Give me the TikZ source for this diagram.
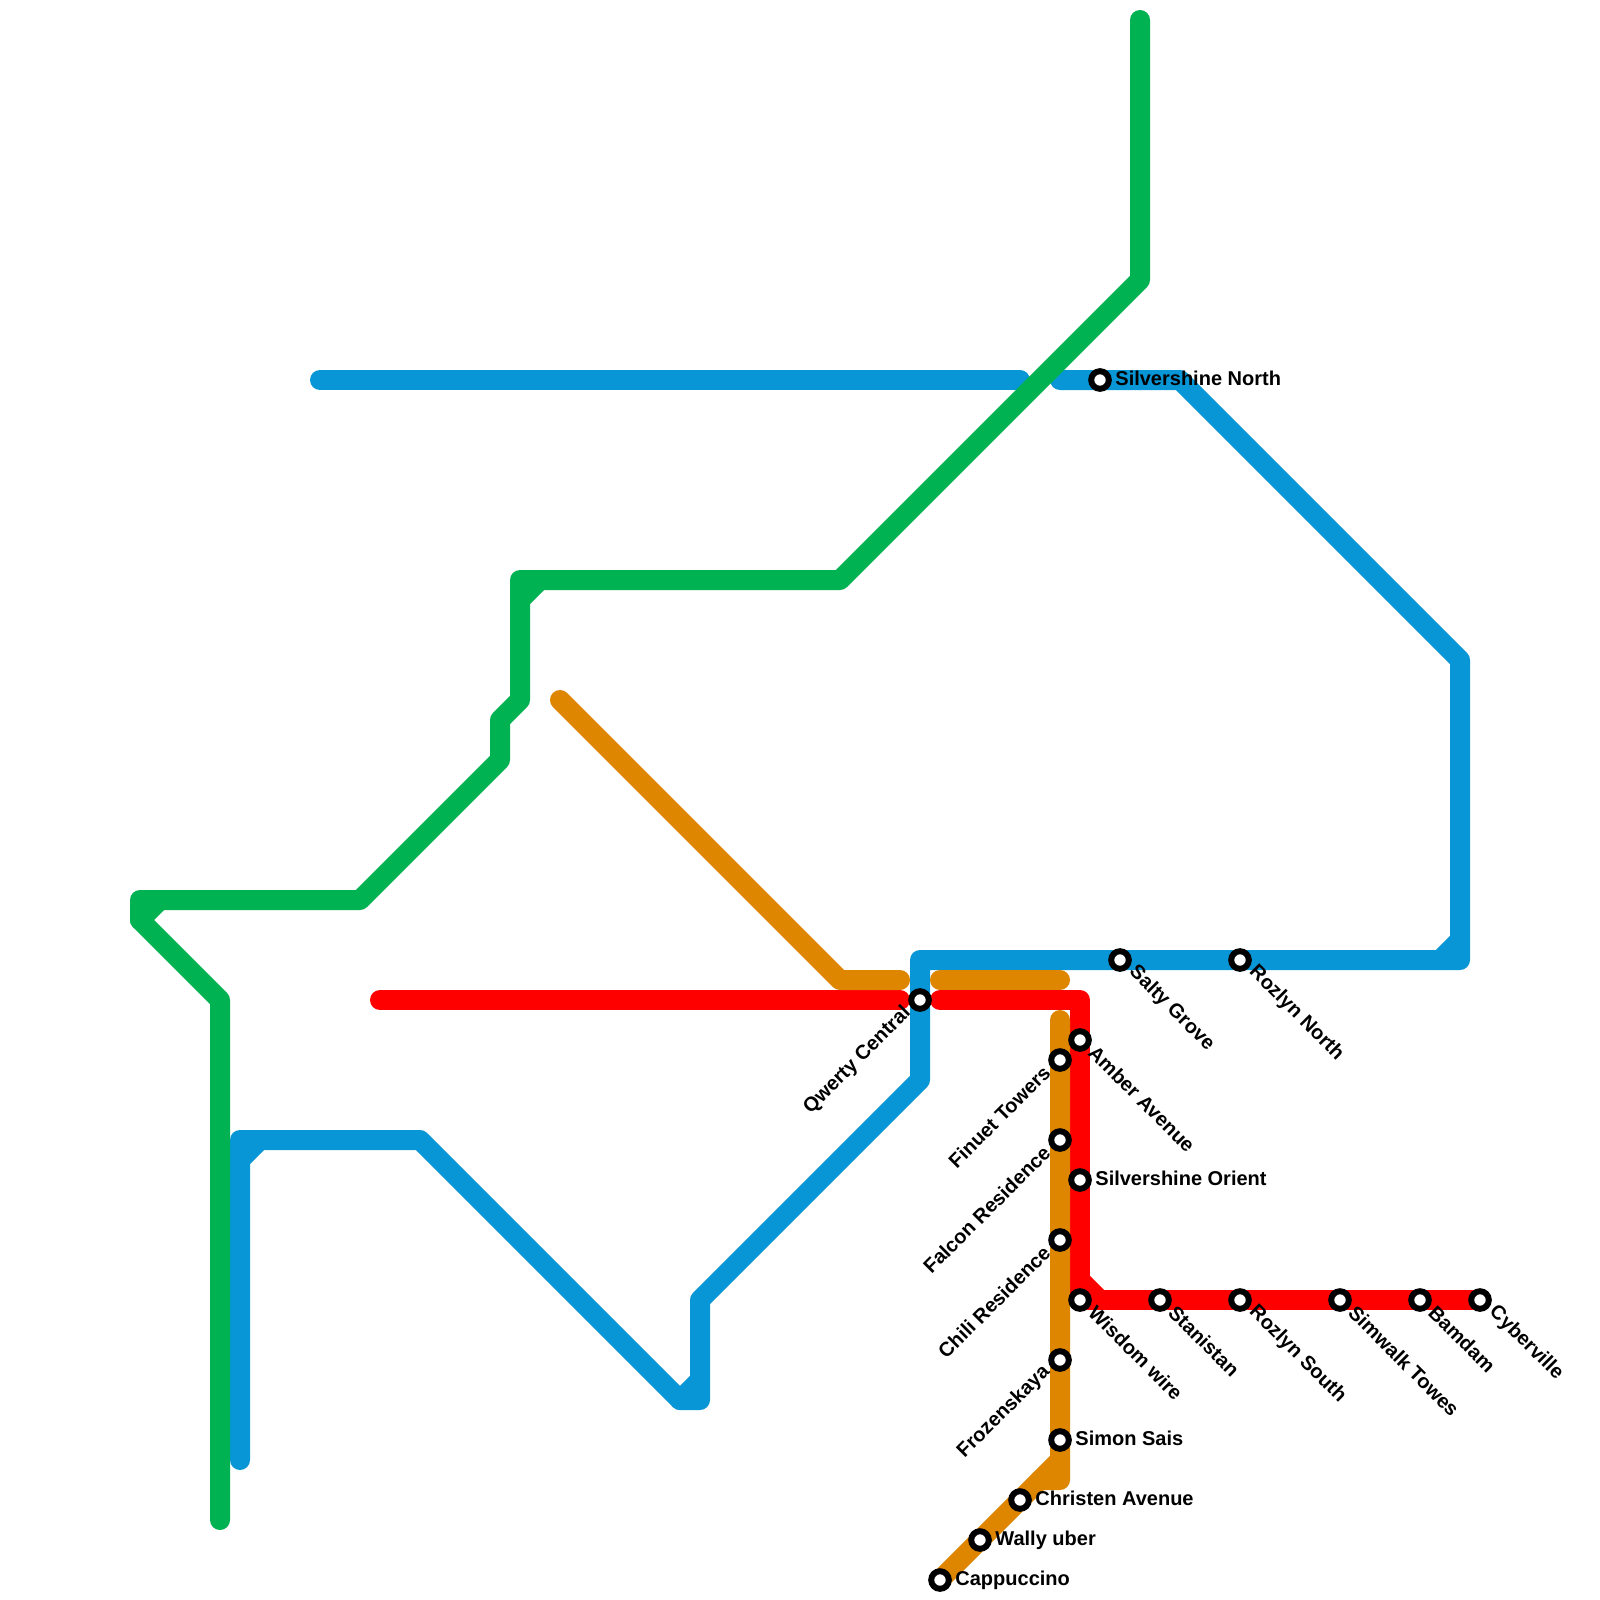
\documentclass[tikz,border=0pt]{standalone}
\usepackage{fontspec}
\setmainfont{Liberation Sans}
\definecolor{lblue}{HTML}{0896D7}
\definecolor{lgreen}{HTML}{00B251}
\definecolor{lorange}{HTML}{DF8600}
\definecolor{lred}{HTML}{FF0000}
\tikzset{
  metro/.style={line width=10pt,line cap=round,line join=round},
  stn/.style={circle,draw=black,fill=white,line width=3pt,minimum size=8.8pt,inner sep=0pt},
  lab/.style={font=\bfseries\fontsize{10pt}{12pt}\selectfont,text=black,inner sep=0pt},
  labr/.style={lab,anchor=west},
  labd/.style={lab,anchor=west,rotate=-45},
  labu/.style={lab,anchor=east,rotate=45}
}
\begin{document}
\begin{tikzpicture}[x=0.5pt,y=-0.5pt]
\useasboundingbox (0,0) rectangle (1600,1600);
% blue
\draw[metro,lblue] (320,380) -- (1020,380);
\draw[metro,lblue] (1060,380) -- (1180,380) -- (1460,660) -- (1460,960) -- (920,960) -- (920,1080) -- (700,1300) -- (700,1400) -- (680,1400) -- (420,1140) -- (240,1140) -- (240,1460);
\draw[metro,lblue] (1460,940) -- (1440,960);
\draw[metro,lblue] (700,1380) -- (680,1400);
\draw[metro,lblue] (260,1140) -- (240,1160);
% green
\draw[metro,lgreen] (1140,20) -- (1140,280) -- (840,580) -- (520,580) -- (520,700) -- (500,720) -- (500,760) -- (360,900) -- (140,900) -- (140,920) -- (220,1000) -- (220,1520);
\draw[metro,lgreen] (540,580) -- (520,600);
\draw[metro,lgreen] (160,900) -- (140,920);
% red
\draw[metro,lred] (380,1000) -- (900,1000);
\draw[metro,lred] (940,1000) -- (1080,1000) -- (1080,1300) -- (1480,1300);
\draw[metro,lred] (1080,1280) -- (1100,1300);
% orange
\draw[metro,lorange] (560,700) -- (840,980) -- (900,980);
\draw[metro,lorange] (940,980) -- (1060,980);
\draw[metro,lorange] (1060,1020) -- (1060,1480) -- (1040,1480) -- (940,1580);
\draw[metro,lorange] (1060,1460) -- (1040,1480);
% stations
\node[stn] (qwerty) at (920,1000) {};
\node[stn] (silvn) at (1100,380) {};
\node[stn] (salty) at (1120,960) {};
\node[stn] (rozn) at (1240,960) {};
\node[stn] (amber) at (1080,1040) {};
\node[stn] (finuet) at (1060,1060) {};
\node[stn] (falcon) at (1060,1140) {};
\node[stn] (silvo) at (1080,1180) {};
\node[stn] (chili) at (1060,1240) {};
\node[stn] (wisdom) at (1080,1300) {};
\node[stn] (stani) at (1160,1300) {};
\node[stn] (rozs) at (1240,1300) {};
\node[stn] (simwalk) at (1340,1300) {};
\node[stn] (bamdam) at (1420,1300) {};
\node[stn] (cyber) at (1480,1300) {};
\node[stn] (froz) at (1060,1360) {};
\node[stn] (simon) at (1060,1440) {};
\node[stn] (christen) at (1020,1500) {};
\node[stn] (wally) at (980,1540) {};
\node[stn] (capp) at (940,1580) {};
% labels
\node[labu] (lqwerty) at (908,1010) {Qwerty Central};
\node[labr] (lsilvn) at (1115,378) {Silvershine North};
\node[labd] (lsalty) at (1132,969) {Salty Grove};
\node[labd] (lrozn) at (1252,969) {Rozlyn North};
\node[labd] (lamber) at (1092,1049) {Amber Avenue};
\node[labu] (lfinuet) at (1047,1069) {Finuet Towers};
\node[labu] (lfalcon) at (1047,1149) {Falcon Residence};
\node[labr] (lsilvo) at (1095,1178) {Silvershine Orient};
\node[labu] (lchili) at (1047,1249) {Chili Residence};
\node[labd] (lwisdom) at (1092,1309) {Wisdom wire};
\node[labd] (lstani) at (1172,1309) {Stanistan};
\node[labd] (lrozs) at (1252,1309) {Rozlyn South};
\node[labd] (lsimwalk) at (1352,1309) {Simwalk Towes};
\node[labd] (lbamdam) at (1432,1309) {Bamdam};
\node[labd] (lcyber) at (1492,1309) {Cyberville};
\node[labu] (lfroz) at (1047,1369) {Frozenskaya};
\node[labr] (lsimon) at (1075,1438) {Simon Sais};
\node[labr] (lchristen) at (1035,1498) {Christen Avenue};
\node[labr] (lwally) at (995,1540) {Wally uber};
\node[labr] (lcapp) at (955,1580) {Cappuccino};
\end{tikzpicture}
\end{document}
